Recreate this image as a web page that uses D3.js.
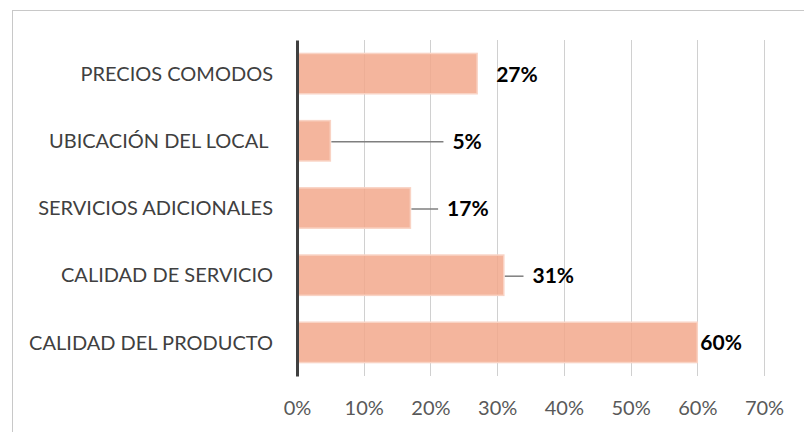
<!DOCTYPE html>
<html>
<head>
<meta charset="utf-8">
<script src="https://cdn.jsdelivr.net/npm/d3@7"></script>
<style>
  body { margin: 0; background: #fff; }
  svg { display: block; }
</style>
</head>
<body>
<svg width="804" height="432"></svg>
<script>
// survey answers, top to bottom
const categories = ['PRECIOS COMODOS', 'UBICACIÓN DEL LOCAL ', 'SERVICIOS ADICIONALES', 'CALIDAD DE SERVICIO', 'CALIDAD DEL PRODUCTO'];
const values = [0.27, 0.05, 0.17, 0.31, 0.60];
const valueLabels = ['27%', '5%', '17%', '31%', '60%'];
const tickValues = [0, 0.1, 0.2, 0.3, 0.4, 0.5, 0.6, 0.7];
// where the data labels were dragged to (in value units), null = at bar end
const labelPos = [null, 0.233, 0.225, 0.353, null];

const svg = d3.select('svg');
const font = 'Lato, "Open Sans", sans-serif';

const x = d3.scaleLinear().domain([0, 0.7]).range([297, 764]);
const y = d3.scaleBand().domain(categories).range([40, 376])
  .paddingInner(0.4).paddingOuter(0.2);

// chart frame (cut off at right and bottom)
svg.append('rect')
  .attr('x', 12.5).attr('y', 10.5)
  .attr('width', 820).attr('height', 450)
  .attr('fill', 'none').attr('stroke', '#c8c8c8');

// gridlines
svg.append('g')
  .selectAll('line')
  .data(tickValues.slice(1))
  .join('line')
  .attr('x1', d => Math.round(x(d)) + 0.5).attr('x2', d => Math.round(x(d)) + 0.5)
  .attr('y1', 40).attr('y2', 376)
  .attr('stroke', '#d0d0d0').attr('stroke-width', 1);

// bars
svg.append('g')
  .selectAll('rect')
  .data(values)
  .join('rect')
  .attr('x', x(0))
  .attr('y', (d, i) => y(categories[i]))
  .attr('width', d => x(d) - x(0))
  .attr('height', y.bandwidth())
  .attr('fill', '#f2a88c').attr('fill-opacity', 0.85)
  .attr('stroke', '#f9d3c4').attr('stroke-width', 1.5);

// leader lines for moved labels
svg.append('g')
  .selectAll('line')
  .data(values.map((v, i) => ({ v, i })).filter(d => labelPos[d.i] !== null))
  .join('line')
  .attr('x1', d => x(d.v) + 1)
  .attr('x2', d => x(labelPos[d.i]) - 9)
  .attr('y1', d => y(categories[d.i]) + y.bandwidth() / 2 + 1)
  .attr('y2', d => y(categories[d.i]) + y.bandwidth() / 2 + 1)
  .attr('stroke', '#7f7f7f').attr('stroke-width', 1.5);

// value labels
svg.append('g')
  .selectAll('text')
  .data(values)
  .join('text')
  .attr('x', (d, i) => labelPos[i] === null ? x(d) + (i === 4 ? 3 : 19) : x(labelPos[i]))
  .attr('y', (d, i) => y(categories[i]) + y.bandwidth() / 2 + 8)
  .attr('font-family', font).attr('font-size', 21).attr('font-weight', 'bold')
  .attr('fill', '#000')
  .text((d, i) => valueLabels[i]);

// category axis
const yAxis = svg.append('g')
  .attr('transform', `translate(${x(0)},0)`)
  .call(d3.axisLeft(y).tickSize(0).tickPadding(24));
yAxis.select('.domain').attr('stroke', '#404040').attr('stroke-width', 3);
yAxis.selectAll('text')
  .attr('font-family', font).attr('font-size', 20).attr('fill', '#404040')
  .attr('dy', '0.36em')
  .style('white-space', 'pre');

// value axis
const xAxis = svg.append('g')
  .attr('transform', 'translate(0,376)')
  .call(d3.axisBottom(x).tickValues(tickValues).tickFormat(d3.format('.0%')).tickSize(0).tickPadding(25));
xAxis.select('.domain').remove();
xAxis.selectAll('text')
  .attr('font-family', font).attr('font-size', 20).attr('fill', '#595959');
</script>
</body>
</html>
